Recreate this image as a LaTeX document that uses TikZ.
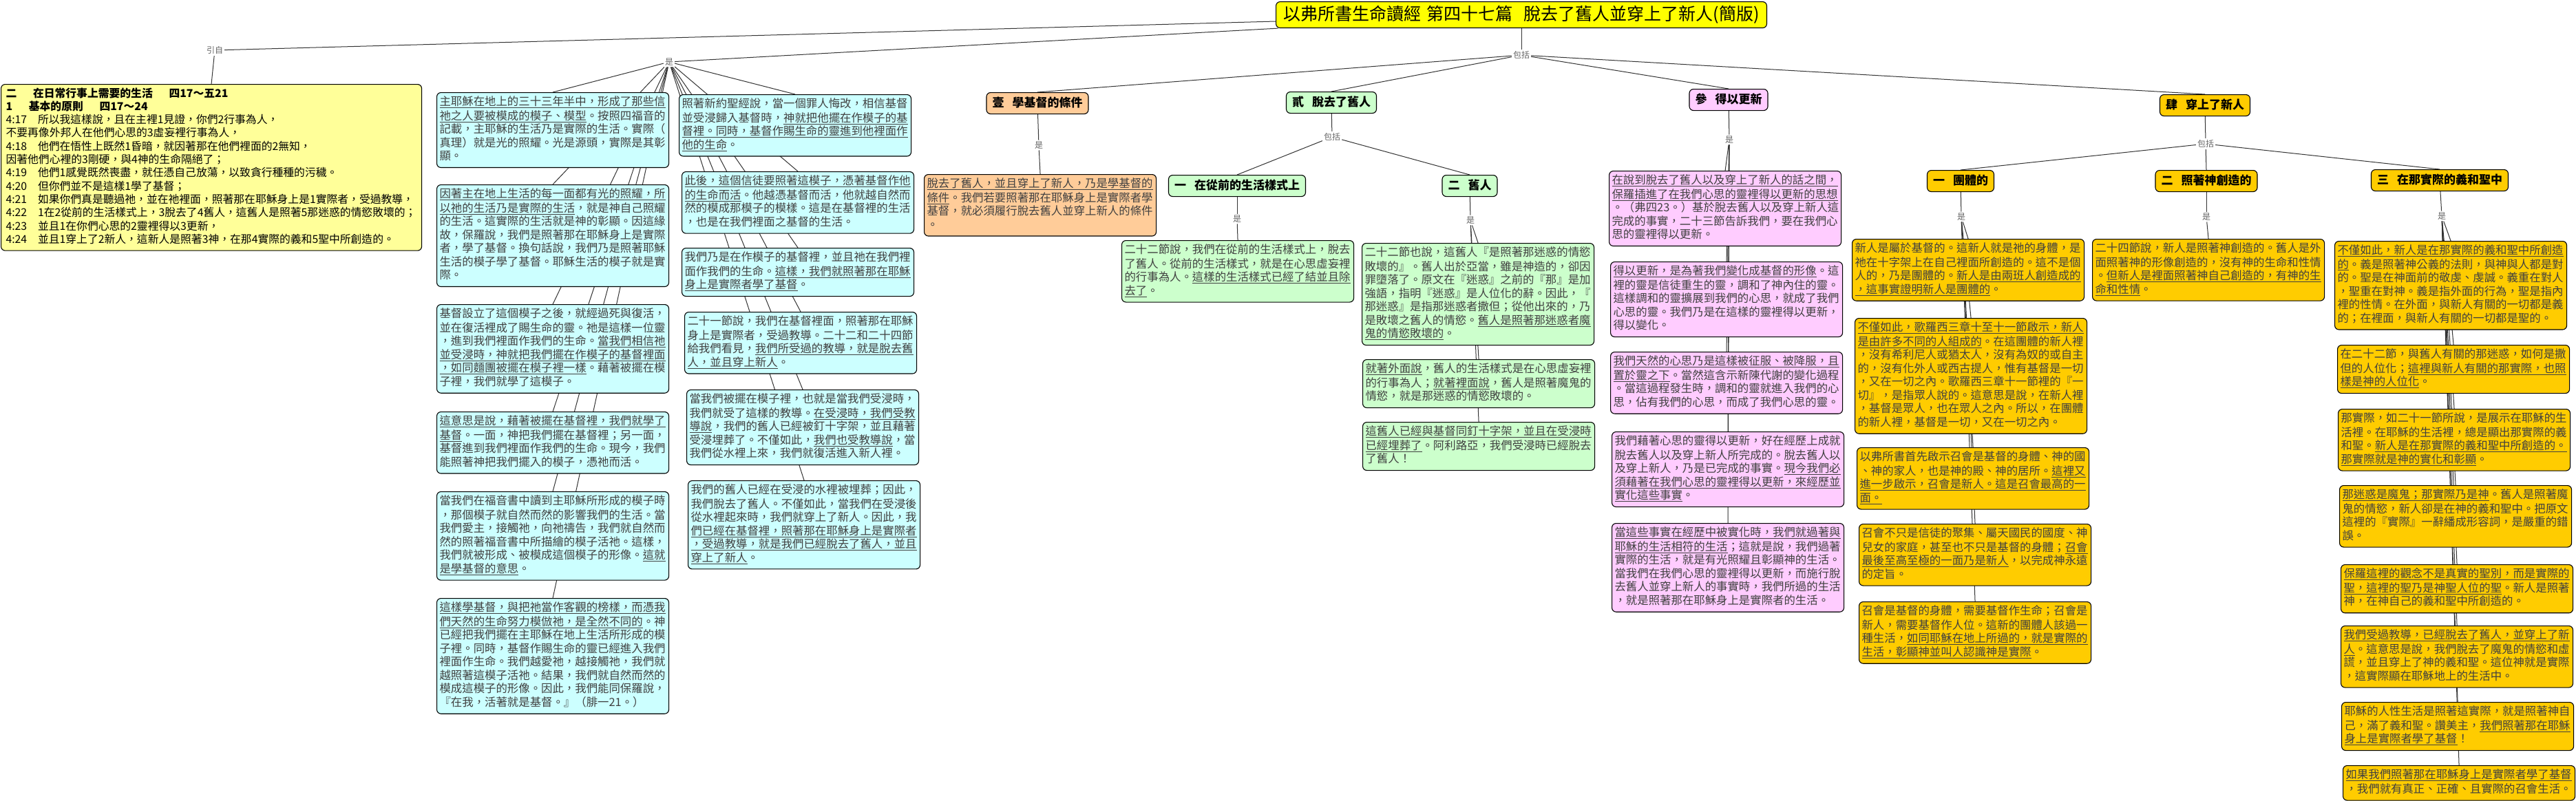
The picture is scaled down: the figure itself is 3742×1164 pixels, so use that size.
\documentclass[tikz,border=0pt]{standalone}
\usepackage{fontspec}
\setmainfont{Noto Sans CJK TC}
\usetikzlibrary{backgrounds}
\definecolor{cyanc}{HTML}{CCFFFF}
\definecolor{yelc}{HTML}{FFFF99}
\definecolor{orgc}{HTML}{FFCC99}
\definecolor{grnc}{HTML}{CCFFCC}
\definecolor{pnkc}{HTML}{FFCCFF}
\definecolor{gldc}{HTML}{FFCC00}
\definecolor{ttlc}{HTML}{FFFF00}
\definecolor{txt}{HTML}{404040}
\newcommand\U[1]{\underline{#1}}
\begin{document}
\begin{tikzpicture}[x=1pt,y=-1pt,
  boxbase/.style={draw=black,line width=1.1pt,rounded corners=6pt},
  content/.style={boxbase,anchor=north west,text width=329pt,inner xsep=4pt,inner ysep=5pt,align=left,font=\fontsize{16.4}{19.5}\selectfont,text=txt},
  cbox/.style={content,fill=cyanc},
  obox/.style={content,fill=orgc},
  gbox/.style={content,fill=grnc},
  pbox/.style={content,fill=pnkc},
  dbox/.style={content,fill=gldc},
  hdr/.style={boxbase,anchor=north,font=\bfseries\fontsize{17}{20}\selectfont,inner xsep=8.5pt,inner ysep=7pt,text height=14pt,text depth=3pt,text=black},
  lab/.style={fill=white,inner sep=2pt,font=\fontsize{12}{14}\selectfont,text=black!60},
  conn/.style={draw=black!80,line width=1pt}]
\useasboundingbox (0,0) rectangle (3742,1164);

% title
\node[boxbase,fill=ttlc,anchor=north,font=\fontsize{25}{28}\selectfont,inner xsep=11pt,inner ysep=6.5pt,text height=20pt,text depth=5pt] (title) at (2210,2) {以弗所書生命讀經\kern8pt 第四十七篇\kern16pt 脫去了舊人並穿上了新人(簡版)};

% labels
\node[lab] (yin) at (312,73) {引自};
\node[lab] (hubA) at (972,90) {是};
\node[lab] (incl) at (2210,80) {包括};
\node[lab] (l1) at (1509,211) {是};
\node[lab] (l2) at (1935,199) {包括};
\node[lab] (l21) at (1797,318) {是};
\node[lab] (l22) at (2136,320) {是};
\node[lab] (l3) at (2512,203) {是};
\node[lab] (l4) at (3204,209) {包括};
\node[lab] (l41) at (2849,315) {是};
\node[lab] (l42) at (3205,315) {是};
\node[lab] (l43) at (3547,314) {是};

% intro box
\node[boxbase,fill=yelc,anchor=north west,text width=597pt,inner xsep=7pt,inner ysep=5pt,align=left,font=\fontsize{15.8}{19.3}\selectfont,text=black] (intro) at (1,122) {\strut{\bfseries 二\kern1.5em 在日常行事上需要的生活\kern1.5em 四17～五21}\\
{\bfseries 1\kern1.5em 基本的原則\kern1.5em 四17～24}\\
4:17\kern1em 所以我這樣說，且在主裡1見證，你們2行事為人，\\
不要再像外邦人在他們心思的3虛妄裡行事為人，\\
4:18\kern1em 他們在悟性上既然1昏暗，就因著那在他們裡面的2無知，\\
因著他們心裡的3剛硬，與4神的生命隔絕了；\\
4:19\kern1em 他們1感覺既然喪盡，就任憑自己放蕩，以致貪行種種的污穢。\\
4:20\kern1em 但你們並不是這樣1學了基督；\\
4:21\kern1em 如果你們真是聽過祂，並在祂裡面，照著那在耶穌身上是1實際者，受過教導，\\
4:22\kern1em 1在2從前的生活樣式上，3脫去了4舊人，這舊人是照著5那迷惑的情慾敗壞的；\\
4:23\kern1em 並且1在你們心思的2靈裡得以3更新，\\
4:24\kern1em 並且1穿上了2新人，這新人是照著3神，在那4實際的義和5聖中所創造的。\strut};

% column 1
\node[cbox] (a1) at (634,134) {\strut\U{主耶穌在地上的三十三年半中，形成了那些信}\\
\U{祂之人要被模成的模子、模型}。按照四福音的\\
記載，主耶穌的生活乃是實際的生活。實際（\\
真理）就是光的照耀。光是源頭，實際是其彰\\
顯。\strut};
\node[cbox] (a2) at (634,268) {\strut\U{因著主在地上生活的每一面都有光的照耀，所}\\
\U{以祂的生活乃是實際的生活}，就是神自己照耀\\
的生活。這實際的生活就是神的彰顯。因這緣\\
故，保羅說，我們是照著那在耶穌身上是實際\\
者，學了基督。換句話說，我們乃是照著耶穌\\
生活的模子學了基督。耶穌生活的模子就是實\\
際。\strut};
\node[cbox] (a3) at (634,442) {\strut 基督設立了這個模子之後，就經過死與復活，\\
並在復活裡成了賜生命的靈。祂是這樣一位靈\\
，進到我們裡面作我們的生命。\U{當我們相信祂}\\
\U{並受浸時，神就把我們擺在作模子的基督裡面}\\
\U{，如同麵團被擺在模子裡一樣}。藉著被擺在模\\
子裡，我們就學了這模子。\strut};
\node[cbox] (a4) at (634,598) {\strut\U{這意思是說，藉著被擺在基督裡，我們就學了}\\
\U{基督}。一面，神把我們擺在基督裡；另一面，\\
基督進到我們裡面作我們的生命。現今，我們\\
能照著神把我們擺入的模子，憑祂而活。\strut};
\node[cbox] (a5) at (634,714) {\strut 當我們在福音書中讀到主耶穌所形成的模子時\\
，那個模子就自然而然的影響我們的生活。當\\
我們愛主，接觸祂，向祂禱告，我們就自然而\\
然的照著福音書中所描繪的模子活祂。這樣，\\
我們就被形成、被模成這個模子的形像。\U{這就}\\
\U{是學基督的意思}。\strut};
\node[cbox] (a6) at (634,869) {\strut\U{這樣學基督，與把祂當作客觀的榜樣，而憑我}\\
\U{們天然的生命努力模倣祂，是全然不同的}。神\\
已經把我們擺在主耶穌在地上生活所形成的模\\
子裡。同時，基督作賜生命的靈已經進入我們\\
裡面作生命。我們越愛祂，越接觸祂，我們就\\
越照著這模子活祂。結果，我們就自然而然的\\
模成這模子的形像。因此，我們能同保羅說，\\
『在我，活著就是基督。』（腓一21。）\strut};

% column 2
\node[cbox] (b1) at (986,137) {\strut 照著新約聖經說，當一個罪人悔改，相信基督\\
並受浸歸入基督時，\U{神就把他擺在作模子的基}\\
\U{督裡。同時，基督作賜生命的靈進到他裡面作}\\
\U{他的生命}。\strut};
\node[cbox] (b2) at (990,249) {\strut\U{此後，這個信徒要照著這模子，憑著基督作他}\\
\U{的生命而活}。他越憑基督而活，他就越自然而\\
然的模成那模子的模樣。這是在基督裡的生活\\
，也是在我們裡面之基督的生活。\strut};
\node[cbox] (b3) at (990,360) {\strut 我們乃是在作模子的基督裡，並且祂在我們裡\\
面作我們的生命。\U{這樣，我們就照著那在耶穌}\\
\U{身上是實際者學了基督}。\strut};
\node[cbox] (b4) at (994,453) {\strut 二十一節說，我們在基督裡面，照著那在耶穌\\
身上是實際者，受過教導。二十二和二十四節\\
給我們看見，\U{我們所受過的教導，就是脫去舊}\\
\U{人，並且穿上新人}。\strut};
\node[cbox] (b5) at (997,566) {\strut 當我們被擺在模子裡，也就是當我們受浸時，\\
我們就受了這樣的教導。\U{在受浸時，我們受教}\\
\U{導說}，我們的舊人已經被釘十字架，並且藉著\\
受浸埋葬了。不僅如此，\U{我們也受教導說}，當\\
我們從水裡上來，我們就復活進入新人裡。\strut};
\node[cbox] (b6) at (999,698) {\strut 我們的舊人已經在受浸的水裡被埋葬；因此，\\
我們脫去了舊人。不僅如此，當我們在受浸後\\
從水裡起來時，我們就穿上了新人。因此，我\\
\U{們已經在基督裡，照著那在耶穌身上是實際者}\\
\U{，受過教導，就是我們已經脫去了舊人，並且}\\
\U{穿上了新人}。\strut};

% headers
\node[hdr,fill=orgc] (h1) at (1507,134) {壹\kern12pt 學基督的條件};
\node[hdr,fill=grnc] (h2) at (1934,133) {貳\kern12pt 脫去了舊人};
\node[hdr,fill=pnkc] (h3) at (2511,129) {參\kern12pt 得以更新};
\node[hdr,fill=gldc] (h4) at (3203,137) {肆\kern12pt 穿上了新人};
\node[hdr,fill=grnc] (h21) at (1797,254) {一\kern12pt 在從前的生活樣式上};
\node[hdr,fill=grnc] (h22) at (2135,254) {二\kern12pt 舊人};
\node[hdr,fill=gldc] (h41) at (2848,247) {一\kern12pt 團體的};
\node[hdr,fill=gldc] (h42) at (3205,247) {二\kern12pt 照著神創造的};
\node[hdr,fill=gldc] (h43) at (3544,246) {三\kern12pt 在那實際的義和聖中};

% 壹
\node[obox] (p1) at (1342,253) {\strut\U{脫去了舊人，並且穿上了新人，乃是學基督的}\\
\U{條件}。我們若要照著那在耶穌身上是實際者學\\
基督，就必須履行脫去舊人並穿上新人的條件\\
。\strut};

% 貳
\node[gbox] (q1) at (1629,349) {\strut 二十二節說，我們在從前的生活樣式上，脫去\\
了舊人。從前的生活樣式，就是在心思虛妄裡\\
的行事為人。\U{這樣的生活樣式已經了結並且除}\\
\U{去了}。\strut};
\node[gbox] (r1) at (1978,353) {\strut 二十二節也說，這舊人『是照著那迷惑的情慾\\
敗壞的』。舊人出於亞當，雖是神造的，卻因\\
罪墮落了。原文在『迷惑』之前的『那』是加\\
強語，指明『迷惑』是人位化的辭。因此，『\\
那迷惑』是指那迷惑者撒但；從他出來的，乃\\
是敗壞之舊人的情慾。\U{舊人是照著那迷惑者魔}\\
\U{鬼的情慾敗壞的}。\strut};
\node[gbox] (r2) at (1979,522) {\strut\U{就著外面說}，舊人的生活樣式是在心思虛妄裡\\
的行事為人；\U{就著裡面說}，舊人是照著魔鬼的\\
情慾，就是那迷惑的情慾敗壞的。\strut};
\node[gbox] (r3) at (1979,613) {\strut\U{這舊人已經與基督同釘十字架，並且在受浸時}\\
\U{已經埋葬了}。阿利路亞，我們受浸時已經脫去\\
了舊人！\strut};

% 參
\node[pbox] (s1) at (2337,248) {\strut\U{在說到脫去了舊人以及穿上了新人的話之間，}\\
\U{保羅插進了在我們心思的靈裡得以更新的思想}\\
。（弗四23。）基於脫去舊人以及穿上新人這\\
完成的事實，二十三節告訴我們，要在我們心\\
思的靈裡得以更新。\strut};
\node[pbox] (s2) at (2339,380) {\strut\U{得以更新，是為著我們變化成基督的形像}。這\\
裡的靈是信徒重生的靈，調和了神內住的靈。\\
這樣調和的靈擴展到我們的心思，就成了我們\\
心思的靈。我們乃是在這樣的靈裡得以更新，\\
得以變化。\strut};
\node[pbox] (s3) at (2339,511) {\strut\U{我們天然的心思乃是這樣被征服、被降服，且}\\
\U{置於靈之下}。當然這含示新陳代謝的變化過程\\
。當這過程發生時，調和的靈就進入我們的心\\
思，佔有我們的心思，而成了我們心思的靈。\strut};
\node[pbox] (s4) at (2341,627) {\strut 我們藉著心思的靈得以更新，好在經歷上成就\\
脫去舊人以及穿上新人所完成的。脫去舊人以\\
及穿上新人，乃是已完成的事實。\U{現今我們必}\\
\U{須藉著在我們心思的靈裡得以更新，來經歷並}\\
\U{實化這些事實}。\strut};
\node[pbox] (s5) at (2341,760) {\strut\U{當這些事實在經歷中被實化時，我們就過著與}\\
\U{耶穌的生活相符的生活}；這就是說，我們過著\\
實際的生活，就是有光照耀且彰顯神的生活。\\
當我們在我們心思的靈裡得以更新，而施行脫\\
去舊人並穿上新人的事實時，我們所過的生活\\
，就是照著那在耶穌身上是實際者的生活。\strut};

% 肆 一
\node[dbox] (t1) at (2690,347) {\strut 新人是屬於基督的。這新人就是祂的身體，是\\
祂在十字架上在自己裡面所創造的。這不是個\\
人的，乃是團體的。\U{新人是由兩班人創造成的}\\
\U{，這事實證明新人是團體的}。\strut};
\node[dbox] (t2) at (2694,462) {\strut\U{不僅如此，歌羅西三章十至十一節啟示，新人}\\
\U{是由許多不同的人組成的}。在這團體的新人裡\\
，沒有希利尼人或猶太人，沒有為奴的或自主\\
的，沒有化外人或西古提人，惟有基督是一切\\
，又在一切之內。歌羅西三章十一節裡的『一\\
切』，是指眾人說的。這意思是說，在新人裡\\
，基督是眾人，也在眾人之內。所以，在團體\\
的新人裡，基督是一切，又在一切之內。\strut};
\node[dbox] (t3) at (2697,650) {\strut 以弗所書首先啟示召會是基督的身體、神的國\\
、神的家人，也是神的殿、神的居所。\U{這裡又}\\
\U{進一步啟示，召會是新人。這是召會最高的一}\\
\U{面。}\strut};
\node[dbox] (t4) at (2700,761) {\strut 召會不只是信徒的聚集、屬天國民的國度、神\\
兒女的家庭，甚至也不只是基督的身體；\U{召會}\\
\U{最後至高至極的一面乃是新人}，以完成神永遠\\
的定旨。\strut};
\node[dbox] (t5) at (2700,874) {\strut 召會是基督的身體，需要基督作生命；召會是\\
新人，需要基督作人位。這新的團體人該過一\\
種生活，\U{如同耶穌在地上所過的，就是實際的}\\
\U{生活，彰顯神並叫人認識神是實際}。\strut};

% 肆 二
\node[dbox] (u1) at (3039,347) {\strut 二十四節說，新人是照著神創造的。舊人是外\\
面照著神的形像創造的，沒有神的生命和性情\\
。\U{但新人是裡面照著神自己創造的，有神的生}\\
\U{命和性情}。\strut};

% 肆 三
\node[dbox] (v1) at (3391,350) {\strut\U{不僅如此，新人是在那實際的義和聖中所創造}\\
\U{的}。義是照著神公義的法則，與神與人都是對\\
的。聖是在神面前的敬虔、虔誠。義重在對人\\
，聖重在對神。義是指外面的行為，聖是指內\\
裡的性情。在外面，與新人有關的一切都是義\\
的；在裡面，與新人有關的一切都是聖的。\strut};
\node[dbox] (v2) at (3395,501) {\strut 在二十二節，與舊人有關的那迷惑，如何是撒\\
但的人位化；\U{這裡與新人有關的那實際，也照}\\
\U{樣是神的人位化}。\strut};
\node[dbox] (v3) at (3396,594) {\strut 那實際，如二十一節所說，是展示在耶穌的生\\
活裡。在耶穌的生活裡，總是顯出那實際的義\\
和聖。\U{新人是在那實際的義和聖中所創造的。}\\
\U{那實際就是神的實化和彰顯}。\strut};
\node[dbox] (v4) at (3398,705) {\strut\U{那迷惑是魔鬼；那實際乃是神}。舊人是照著魔\\
鬼的情慾，新人卻是在神的義和聖中。把原文\\
這裡的『實際』一辭繙成形容詞，是嚴重的錯\\
誤。\strut};
\node[dbox] (v5) at (3400,820) {\strut\U{保羅這裡的觀念不是真實的聖別，而是實際的}\\
\U{聖，這裡的聖乃是神聖人位的聖}。新人是照著\\
神，在神自己的義和聖中所創造的。\strut};
\node[dbox] (v6) at (3400,909) {\strut\U{我們受過教導，已經脫去了舊人，並穿上了新}\\
\U{人}。這意思是說，我們脫去了魔鬼的情慾和虛\\
謊，並且穿上了神的義和聖。這位神就是實際\\
，這實際顯在耶穌地上的生活中。\strut};
\node[dbox] (v7) at (3401,1020) {\strut 耶穌的人性生活是照著這實際，就是照著神自\\
己，滿了義和聖。讚美主，\U{我們照著那在耶穌}\\
\U{身上是實際者學了基督}！\strut};
\node[dbox] (v8) at (3403,1112) {\strut\U{如果我們照著那在耶穌身上是實際者學了基督}\\
，我們就有真正、正確、且實際的召會生活。\strut};

% connectors
\begin{scope}[on background layer]
\fill[white] (0,0) rectangle (3742,1164);
\draw[conn] (title) -- (yin);
\draw[conn] (yin) -- (intro.north);
\draw[conn] (title) -- (hubA);
\foreach \n in {a1,a2,a3,a4,a5,a6,b1,b2,b3,b4,b5,b6} \draw[conn] (hubA) -- (\n.north);
\draw[conn] (title) -- (incl);
\foreach \n in {h1,h2,h3,h4} \draw[conn] (incl) -- (\n.north);
\draw[conn] (h1) -- (l1); \draw[conn] (l1) -- (p1.north);
\draw[conn] (h2) -- (l2);
\draw[conn] (l2) -- (h21.north); \draw[conn] (l2) -- (h22.north);
\draw[conn] (h21) -- (l21); \draw[conn] (l21) -- (q1.north);
\draw[conn] (h22) -- (l22);
\foreach \n in {r1,r2,r3} \draw[conn] (l22) -- (\n.north);
\draw[conn] (h3) -- (l3);
\foreach \n in {s1,s2,s3,s4,s5} \draw[conn] (l3) -- (\n.north);
\draw[conn] (h4) -- (l4);
\foreach \n in {h41,h42,h43} \draw[conn] (l4) -- (\n.north);
\draw[conn] (h41) -- (l41);
\foreach \n in {t1,t2,t3,t4,t5} \draw[conn] (l41) -- (\n.north);
\draw[conn] (h42) -- (l42); \draw[conn] (l42) -- (u1.north);
\draw[conn] (h43) -- (l43);
\foreach \n in {v1,v2,v3,v4,v5,v6,v7,v8} \draw[conn] (l43) -- (\n.north);
\end{scope}
\end{tikzpicture}
\end{document}
